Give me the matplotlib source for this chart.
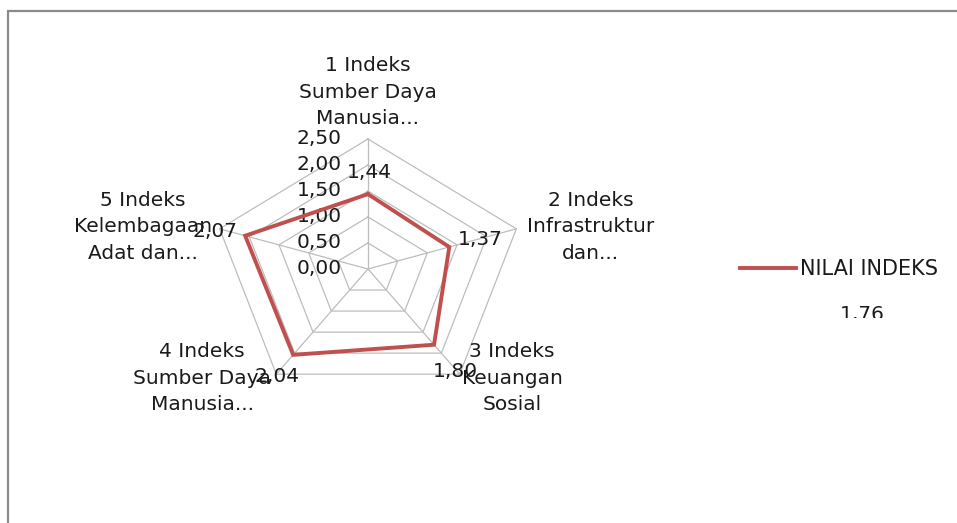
import numpy as np
import matplotlib
matplotlib.use('Agg')
from matplotlib import pyplot as plt
from matplotlib.patches import Rectangle
from matplotlib.transforms import Bbox

# data
categories = ['1 Indeks\nSumber Daya\nManusia...',
              '2 Indeks\nInfrastruktur\ndan...',
              '3 Indeks\nKeuangan\nSosial',
              '4 Indeks\nSumber Daya\nManusia...',
              '5 Indeks\nKelembagaan\nAdat dan...']
values = [1.44, 1.37, 1.80, 2.04, 2.07]
value_labels = ['1,44', '1,37', '1,80', '2,04', '2,07']
ticks = [0.0, 0.5, 1.0, 1.5, 2.0, 2.5]
tick_labels = ['0,00', '0,50', '1,00', '1,50', '2,00', '2,50']
series_name = 'NILAI INDEKS'
average_label = '1,76'

# layout (pixels)
W, H = 957, 523
cx, cy = 368, 269          # centre of the radar, from top-left
sx, sy = 62.4, 52.0        # pixels per unit (chart is stretched horizontally)
cat_pos = [(0.0, 3.40), (3.57, 0.81), (2.31, -2.10), (-2.66, -2.10), (-3.61, 0.81)]
val_off = [(1, 22), (31, 7), (21, -27), (-16, -22), (-30, 4)]

grid_col = '#bdbdbd'
red = '#c0504d'
txt = '#1a1a1a'
fs = 14.5

fig = plt.figure(figsize=(W / 100, H / 100), dpi=100)
ax = fig.add_axes([(cx - 3 * sx) / W, (H - cy - 3 * sy) / H, 6 * sx / W, 6 * sy / H])
ax.set_xlim(-3, 3)
ax.set_ylim(-3, 3)
ax.axis('off')

theta = np.deg2rad(90 - 72 * np.arange(len(values)))
ct, st = np.cos(theta), np.sin(theta)

# pentagon grid + spokes
for t in ticks[1:]:
    ax.plot(np.append(t * ct, t * ct[0]), np.append(t * st, t * st[0]),
            color=grid_col, lw=0.9, zorder=1)
for c, s in zip(ct, st):
    ax.plot([0, ticks[-1] * c], [0, ticks[-1] * s], color=grid_col, lw=0.9, zorder=1)

# axis value labels
for t, lab in zip(ticks, tick_labels):
    ax.annotate(lab, (0, t), xytext=(-26, 0), textcoords='offset pixels',
                ha='right', va='center', fontsize=fs, color=txt)

# series
v = np.array(values)
line, = ax.plot(np.append(v * ct, v[0] * ct[0]), np.append(v * st, v[0] * st[0]),
                color=red, lw=2.8, solid_joinstyle='miter', zorder=3, label=series_name)

for x, y, lab, off in zip(v * ct, v * st, value_labels, val_off):
    ax.annotate(lab, (x, y), xytext=off, textcoords='offset pixels',
                ha='center', va='center', fontsize=fs, color=txt, zorder=4)

# category labels
for lab, (x, y) in zip(categories, cat_pos):
    ax.text(x, y, lab, ha='center', va='center', fontsize=fs, color=txt,
            linespacing=1.5, multialignment='center')

# legend
leg = fig.legend(handles=[line], loc='center left', bbox_to_anchor=(740 / W, 1 - 269 / H),
                 borderaxespad=0, borderpad=0, handlelength=2.7, handletextpad=0.2,
                 frameon=False, prop={'size': 15})
for t in leg.get_texts():
    t.set_color(txt)
# the average value is cut off at the bottom in the original
avg = fig.text(862 / W, 1 - 314.5 / H, average_label, ha='center', va='center',
               fontsize=14.5, color=txt)
avg.set_clip_box(Bbox.from_extents(0, H - 318, W, H))
avg.set_clip_on(True)

# outer frame
fig.add_artist(Rectangle((8 / W, -0.05), 1.1, 1.05 - 11 / H, transform=fig.transFigure,
                         fill=False, ec='#8a8a8a', lw=1.6))

fig.savefig('out.png', dpi=100)
